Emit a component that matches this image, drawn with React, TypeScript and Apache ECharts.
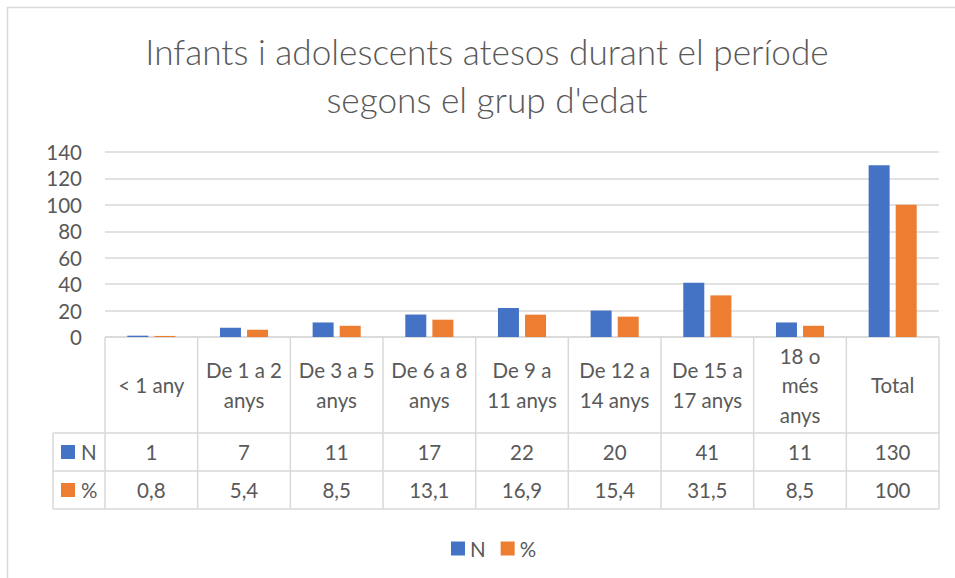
import React, { useEffect, useRef } from "react";
import * as echarts from "echarts";

const titleLines = ["Infants i adolescents atesos durant el període", "segons el grup d'edat"];
const categories = [
  "< 1 any",
  "De 1 a 2 anys",
  "De 3 a 5 anys",
  "De 6 a 8 anys",
  "De 9 a 11 anys",
  "De 12 a 14 anys",
  "De 15 a 17 anys",
  "18 o més anys",
  "Total",
];
const headerLabels = [
  "< 1 any",
  "De 1 a 2\nanys",
  "De 3 a 5\nanys",
  "De 6 a 8\nanys",
  "De 9 a\n11 anys",
  "De 12 a\n14 anys",
  "De 15 a\n17 anys",
  "18 o\nmés\nanys",
  "Total",
];
const seriesNames = ["N", "%"];
const nValues = [1, 7, 11, 17, 22, 20, 41, 11, 130];
const pctValues = [0.8, 5.4, 8.5, 13.1, 16.9, 15.4, 31.5, 8.5, 100];
const yTicks = [0, 20, 40, 60, 80, 100, 120, 140];

const COLORS = ["#4472C4", "#ED7D31"];
const TEXT = "#595959";
const LINE = "#d9d9d9";
const FONT = "Lato, 'Open Sans', sans-serif";
const FS = 20.5;

const W = 955;
const H = 578;
const GL = 105;
const GR = 939;
const GT = 152;
const GB = 337;
const ROW1 = 433;
const ROW2 = 471;
const ROW3 = 509;
const LEGCOL = 53;

function fmt(v: number) {
  return String(v).replace(".", ",");
}

export default function App() {
  const ref = useRef<HTMLDivElement>(null);
  useEffect(() => {
    if (!ref.current) return;
    const chart = echarts.init(ref.current, null, { renderer: "svg" });
    const n = categories.length;
    const cw = (GR - GL) / n;
    const graphics: any[] = [];
    const ln = (x1: number, y1: number, x2: number, y2: number) =>
      graphics.push({
        type: "line",
        silent: true,
        shape: { x1, y1, x2, y2 },
        style: { stroke: LINE, lineWidth: 1.5 },
      });
    // frame
    graphics.push({
      type: "rect",
      silent: true,
      shape: { x: 7.5, y: 7.5, width: 1200, height: 800 },
      style: { fill: "none", stroke: LINE, lineWidth: 1.5 },
    });
    // title
    titleLines.forEach((t, i) =>
      graphics.push({
        type: "text",
        x: 487,
        y: 51 + i * 48,
        style: {
          text: t,
          fill: TEXT,
          font: `300 35.2px ${FONT}`,
          textAlign: "center",
          textVerticalAlign: "middle",
        },
      })
    );
    // table lines
    ln(GL, GB, GR, GB);
    ln(LEGCOL, ROW1, GR, ROW1);
    ln(LEGCOL, ROW2, GR, ROW2);
    ln(LEGCOL, ROW3, GR, ROW3);
    for (let i = 0; i <= n; i++) {
      ln(GL + i * cw, GB, GL + i * cw, ROW3);
    }
    ln(LEGCOL, ROW1, LEGCOL, ROW3);
    // header labels
    headerLabels.forEach((t, i) =>
      graphics.push({
        type: "text",
        x: GL + (i + 0.5) * cw,
        y: (GB + ROW1) / 2,
        style: {
          text: t,
          fill: TEXT,
          font: `${FS}px ${FONT}`,
          lineHeight: 29.5,
          textAlign: "center",
          textVerticalAlign: "middle",
        },
      })
    );
    const rows = [nValues.map((v) => fmt(v)), pctValues.map((v) => fmt(v))];
    const rowY = [(ROW1 + ROW2) / 2, (ROW2 + ROW3) / 2];
    rows.forEach((r, ri) => {
      graphics.push({
        type: "rect",
        silent: true,
        shape: { x: 61, y: rowY[ri] - 7, width: 14, height: 14 },
        style: { fill: COLORS[ri] },
      });
      graphics.push({
        type: "text",
        x: 81,
        y: rowY[ri],
        style: {
          text: seriesNames[ri],
          fill: TEXT,
          font: `${FS}px ${FONT}`,
          textAlign: "left",
          textVerticalAlign: "middle",
        },
      });
      r.forEach((t, i) =>
        graphics.push({
          type: "text",
          x: GL + (i + 0.5) * cw,
          y: rowY[ri],
          style: {
            text: t,
            fill: TEXT,
            font: `${FS}px ${FONT}`,
            textAlign: "center",
            textVerticalAlign: "middle",
          },
        })
      );
    });

    chart.setOption({
      animation: false,
      backgroundColor: "#ffffff",
      textStyle: { fontFamily: FONT },
      grid: { left: GL, right: W - GR, top: GT, bottom: H - GB, containLabel: false },
      legend: {
        data: seriesNames,
        left: 451,
        top: 538,
        icon: "rect",
        itemWidth: 14,
        itemHeight: 14,
        itemGap: 15,
        textStyle: { color: TEXT, fontSize: FS, fontFamily: FONT },
        padding: 0,
      },
      xAxis: {
        type: "category",
        data: categories,
        axisLine: { show: false },
        axisTick: { show: false },
        axisLabel: { show: false },
      },
      yAxis: {
        type: "value",
        min: yTicks[0],
        max: yTicks[yTicks.length - 1],
        interval: yTicks[1] - yTicks[0],
        axisLine: { show: false },
        axisTick: { show: false },
        axisLabel: { color: TEXT, fontSize: FS, fontFamily: FONT, margin: 23 },
        splitLine: { lineStyle: { color: LINE, width: 1.5 } },
      },
      series: [
        {
          name: seriesNames[0],
          type: "bar",
          data: nValues,
          barWidth: 21,
          barGap: "29%",
          itemStyle: { color: COLORS[0] },
        },
        {
          name: seriesNames[1],
          type: "bar",
          data: pctValues,
          barWidth: 21,
          barGap: "29%",
          itemStyle: { color: COLORS[1] },
        },
      ],
      graphic: graphics,
    });
    return () => chart.dispose();
  }, []);
  return (
    <div
      ref={ref}
      style={{ position: "absolute", left: 0, top: 0, width: W, height: H, background: "#fff" }}
    />
  );
}
